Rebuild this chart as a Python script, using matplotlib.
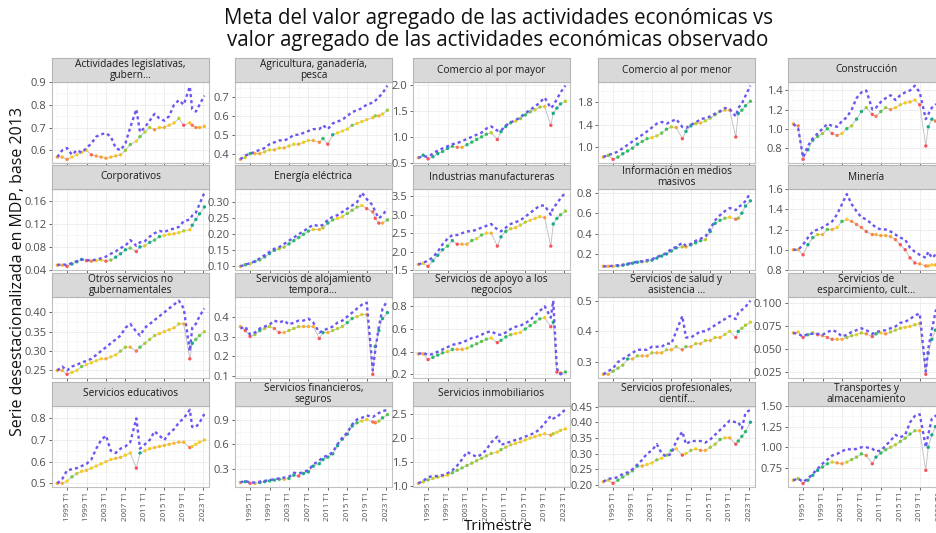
import numpy as np
import matplotlib.pyplot as plt
from matplotlib.colors import LinearSegmentedColormap
from matplotlib.ticker import FixedLocator

plt.rcParams['font.family'] = ['Open Sans', 'DejaVu Sans']

# trimestres (año decimal) usados como muestra de la serie
trimestres = [1993, 1994, 1995, 1996, 1997, 1998, 1999, 2000, 2001, 2002, 2003, 2004,
              2005, 2006, 2007, 2008, 2009.25, 2010, 2011, 2012, 2013, 2014, 2015, 2016,
              2017, 2018, 2019, 2020.25, 2020.75, 2021.5, 2022.25, 2023.25]
anios_tick = [1995, 1999, 2003, 2007, 2011, 2015, 2019, 2023]
etiquetas_x = [f"{a} T1" for a in anios_tick]

actividades = ["Actividades legislativas,\ngubern...", "Agricultura, ganadería,\npesca",
               "Comercio al por mayor", "Comercio al por menor", "Construcción",
               "Corporativos", "Energía eléctrica", "Industrias manufactureras",
               "Información en medios\nmasivos", "Minería",
               "Otros servicios no\ngubernamentales", "Servicios de alojamiento\ntempora...",
               "Servicios de apoyo a los\nnegocios", "Servicios de salud y\nasistencia ...",
               "Servicios de\nesparcimiento, cult...",
               "Servicios educativos", "Servicios financieros,\nseguros",
               "Servicios inmobiliarios", "Servicios profesionales,\ncientíf...",
               "Transportes y\nalmacenamiento"]

obs_legislativas = [0.57, 0.57, 0.56, 0.57, 0.58, 0.59, 0.60, 0.58, 0.575, 0.57, 0.565, 0.57, 0.575, 0.58, 0.60, 0.625, 0.64, 0.66, 0.68, 0.70, 0.69, 0.70, 0.70, 0.71, 0.72, 0.74, 0.71, 0.72, 0.71, 0.70, 0.70, 0.705]
meta_legislativas = [0.57, 0.60, 0.61, 0.58, 0.60, 0.59, 0.61, 0.63, 0.66, 0.67, 0.675, 0.66, 0.61, 0.60, 0.63, 0.70, 0.78, 0.68, 0.70, 0.73, 0.76, 0.74, 0.73, 0.75, 0.80, 0.82, 0.80, 0.88, 0.78, 0.77, 0.80, 0.84]
obs_agricultura = [0.37, 0.38, 0.40, 0.40, 0.40, 0.41, 0.42, 0.42, 0.43, 0.43, 0.44, 0.45, 0.45, 0.46, 0.47, 0.47, 0.46, 0.48, 0.45, 0.50, 0.51, 0.52, 0.53, 0.55, 0.56, 0.57, 0.58, 0.59, 0.60, 0.60, 0.61, 0.63]
meta_agricultura = [0.37, 0.39, 0.40, 0.41, 0.42, 0.43, 0.45, 0.46, 0.47, 0.47, 0.48, 0.50, 0.50, 0.51, 0.52, 0.53, 0.53, 0.55, 0.53, 0.56, 0.57, 0.58, 0.60, 0.62, 0.63, 0.64, 0.66, 0.67, 0.68, 0.70, 0.72, 0.76]
obs_mayor = [0.60, 0.65, 0.58, 0.62, 0.68, 0.72, 0.78, 0.82, 0.80, 0.80, 0.85, 0.90, 0.95, 1.00, 1.05, 1.08, 0.95, 1.10, 1.20, 1.27, 1.30, 1.35, 1.42, 1.48, 1.52, 1.57, 1.58, 1.22, 1.45, 1.55, 1.63, 1.68]
meta_mayor = [0.60, 0.63, 0.62, 0.68, 0.74, 0.78, 0.82, 0.86, 0.88, 0.92, 0.96, 1.00, 1.04, 1.08, 1.16, 1.20, 1.12, 1.12, 1.22, 1.28, 1.32, 1.38, 1.45, 1.52, 1.58, 1.66, 1.75, 1.55, 1.60, 1.72, 1.85, 1.98]
obs_menor = [0.82, 0.85, 0.78, 0.82, 0.88, 0.93, 0.98, 1.05, 1.10, 1.15, 1.17, 1.20, 1.25, 1.32, 1.36, 1.35, 1.15, 1.28, 1.38, 1.42, 1.43, 1.47, 1.52, 1.58, 1.64, 1.66, 1.66, 1.18, 1.60, 1.66, 1.74, 1.82]
meta_menor = [0.82, 0.86, 0.88, 0.92, 0.98, 1.04, 1.10, 1.16, 1.22, 1.28, 1.35, 1.42, 1.45, 1.42, 1.46, 1.50, 1.36, 1.34, 1.40, 1.44, 1.50, 1.52, 1.55, 1.60, 1.64, 1.70, 1.68, 1.55, 1.70, 1.78, 1.92, 2.10]
obs_construccion = [1.05, 1.03, 0.68, 0.78, 0.88, 0.92, 0.95, 1.00, 0.95, 0.93, 0.95, 1.00, 1.03, 1.10, 1.18, 1.22, 1.15, 1.13, 1.18, 1.22, 1.20, 1.22, 1.25, 1.27, 1.28, 1.30, 1.25, 0.82, 1.02, 1.10, 1.08, 1.12]
meta_construccion = [1.05, 1.00, 0.70, 0.82, 0.90, 0.95, 1.00, 1.05, 1.03, 1.02, 1.08, 1.12, 1.20, 1.32, 1.38, 1.40, 1.20, 1.22, 1.28, 1.32, 1.35, 1.30, 1.35, 1.38, 1.40, 1.45, 1.38, 1.10, 1.15, 1.22, 1.25, 1.28]
obs_corporativos = [0.048, 0.048, 0.046, 0.050, 0.054, 0.058, 0.056, 0.055, 0.056, 0.057, 0.055, 0.057, 0.062, 0.068, 0.075, 0.078, 0.072, 0.080, 0.082, 0.088, 0.092, 0.098, 0.100, 0.102, 0.103, 0.105, 0.108, 0.110, 0.118, 0.128, 0.138, 0.150]
meta_corporativos = [0.048, 0.050, 0.048, 0.052, 0.055, 0.058, 0.057, 0.056, 0.058, 0.060, 0.063, 0.068, 0.072, 0.078, 0.082, 0.092, 0.082, 0.088, 0.090, 0.098, 0.104, 0.108, 0.106, 0.110, 0.112, 0.115, 0.125, 0.128, 0.135, 0.140, 0.155, 0.175]
obs_energia = [0.100, 0.105, 0.108, 0.115, 0.120, 0.130, 0.140, 0.150, 0.155, 0.160, 0.170, 0.180, 0.190, 0.200, 0.210, 0.215, 0.215, 0.220, 0.235, 0.245, 0.250, 0.255, 0.265, 0.275, 0.285, 0.290, 0.280, 0.270, 0.250, 0.235, 0.235, 0.245]
meta_energia = [0.100, 0.105, 0.110, 0.115, 0.125, 0.135, 0.145, 0.155, 0.160, 0.170, 0.180, 0.190, 0.200, 0.210, 0.220, 0.230, 0.225, 0.230, 0.245, 0.255, 0.260, 0.270, 0.280, 0.290, 0.300, 0.330, 0.310, 0.290, 0.270, 0.250, 0.260, 0.280]
obs_manufactura = [1.65, 1.68, 1.60, 1.75, 1.90, 2.05, 2.15, 2.30, 2.20, 2.20, 2.20, 2.30, 2.35, 2.45, 2.50, 2.50, 2.15, 2.40, 2.55, 2.62, 2.65, 2.72, 2.80, 2.85, 2.90, 2.95, 2.92, 2.15, 2.75, 2.90, 3.00, 3.10]
meta_manufactura = [1.65, 1.70, 1.75, 1.85, 2.00, 2.20, 2.35, 2.45, 2.45, 2.50, 2.55, 2.55, 2.60, 2.65, 2.70, 2.75, 2.60, 2.55, 2.65, 2.75, 2.80, 2.85, 2.95, 3.05, 3.15, 3.25, 3.25, 3.00, 3.20, 3.30, 3.45, 3.60]
obs_informacion = [0.08, 0.08, 0.08, 0.085, 0.09, 0.10, 0.11, 0.12, 0.125, 0.13, 0.14, 0.16, 0.18, 0.20, 0.23, 0.26, 0.27, 0.27, 0.29, 0.31, 0.33, 0.34, 0.42, 0.50, 0.53, 0.55, 0.56, 0.54, 0.55, 0.60, 0.67, 0.72]
meta_informacion = [0.08, 0.08, 0.085, 0.09, 0.095, 0.105, 0.115, 0.125, 0.13, 0.14, 0.15, 0.17, 0.19, 0.21, 0.25, 0.27, 0.31, 0.28, 0.30, 0.33, 0.35, 0.37, 0.45, 0.53, 0.58, 0.62, 0.65, 0.63, 0.66, 0.68, 0.72, 0.80]
obs_mineria = [1.00, 1.00, 0.95, 1.05, 1.12, 1.15, 1.15, 1.20, 1.20, 1.22, 1.28, 1.30, 1.28, 1.25, 1.22, 1.18, 1.15, 1.15, 1.14, 1.14, 1.13, 1.10, 1.05, 1.00, 0.92, 0.87, 0.86, 0.84, 0.84, 0.85, 0.85, 0.86]
meta_mineria = [1.00, 1.00, 1.05, 1.12, 1.18, 1.20, 1.22, 1.25, 1.28, 1.35, 1.45, 1.55, 1.45, 1.38, 1.32, 1.30, 1.25, 1.22, 1.20, 1.20, 1.18, 1.15, 1.12, 1.10, 1.02, 0.98, 0.95, 0.92, 0.98, 0.92, 0.95, 0.97]
obs_otros = [0.25, 0.25, 0.24, 0.245, 0.25, 0.26, 0.265, 0.27, 0.275, 0.28, 0.28, 0.285, 0.29, 0.30, 0.31, 0.31, 0.30, 0.31, 0.32, 0.33, 0.34, 0.345, 0.35, 0.355, 0.36, 0.37, 0.37, 0.28, 0.32, 0.33, 0.34, 0.35]
meta_otros = [0.25, 0.26, 0.25, 0.26, 0.265, 0.27, 0.275, 0.28, 0.29, 0.30, 0.31, 0.32, 0.33, 0.34, 0.36, 0.37, 0.35, 0.34, 0.36, 0.37, 0.38, 0.39, 0.40, 0.41, 0.42, 0.43, 0.41, 0.30, 0.36, 0.37, 0.39, 0.41]
obs_alojamiento = [0.35, 0.33, 0.30, 0.31, 0.33, 0.34, 0.35, 0.34, 0.32, 0.32, 0.33, 0.34, 0.35, 0.35, 0.35, 0.35, 0.29, 0.32, 0.32, 0.33, 0.34, 0.35, 0.37, 0.39, 0.40, 0.41, 0.41, 0.11, 0.25, 0.33, 0.39, 0.42]
meta_alojamiento = [0.34, 0.35, 0.31, 0.32, 0.34, 0.35, 0.36, 0.38, 0.37, 0.38, 0.36, 0.37, 0.38, 0.38, 0.39, 0.37, 0.32, 0.33, 0.34, 0.35, 0.37, 0.38, 0.40, 0.42, 0.44, 0.46, 0.47, 0.13, 0.23, 0.35, 0.44, 0.48]
obs_apoyo = [0.38, 0.38, 0.33, 0.35, 0.37, 0.39, 0.40, 0.42, 0.42, 0.42, 0.43, 0.45, 0.47, 0.49, 0.51, 0.52, 0.48, 0.50, 0.53, 0.55, 0.56, 0.57, 0.60, 0.63, 0.66, 0.69, 0.70, 0.62, 0.66, 0.22, 0.21, 0.22]
meta_apoyo = [0.38, 0.39, 0.37, 0.38, 0.40, 0.42, 0.44, 0.46, 0.47, 0.48, 0.50, 0.52, 0.53, 0.55, 0.57, 0.58, 0.55, 0.55, 0.57, 0.60, 0.62, 0.63, 0.65, 0.68, 0.72, 0.76, 0.80, 0.70, 0.85, 0.25, 0.20, 0.22]
obs_salud = [0.26, 0.26, 0.27, 0.28, 0.29, 0.31, 0.31, 0.32, 0.32, 0.32, 0.33, 0.33, 0.33, 0.34, 0.34, 0.35, 0.34, 0.35, 0.35, 0.36, 0.36, 0.37, 0.37, 0.38, 0.38, 0.39, 0.40, 0.38, 0.40, 0.41, 0.42, 0.43]
meta_salud = [0.26, 0.27, 0.28, 0.30, 0.31, 0.32, 0.33, 0.34, 0.34, 0.34, 0.35, 0.35, 0.35, 0.36, 0.36, 0.40, 0.45, 0.38, 0.38, 0.39, 0.40, 0.40, 0.41, 0.42, 0.43, 0.44, 0.45, 0.44, 0.46, 0.47, 0.48, 0.50]
obs_esparcimiento = [0.067, 0.068, 0.062, 0.065, 0.067, 0.065, 0.064, 0.062, 0.060, 0.060, 0.060, 0.062, 0.064, 0.065, 0.067, 0.066, 0.063, 0.066, 0.067, 0.066, 0.068, 0.070, 0.072, 0.073, 0.074, 0.076, 0.077, 0.022, 0.045, 0.060, 0.070, 0.078]
meta_esparcimiento = [0.067, 0.066, 0.063, 0.066, 0.066, 0.066, 0.065, 0.068, 0.070, 0.068, 0.063, 0.065, 0.068, 0.070, 0.072, 0.070, 0.066, 0.068, 0.069, 0.070, 0.072, 0.074, 0.078, 0.079, 0.082, 0.086, 0.088, 0.025, 0.050, 0.070, 0.090, 0.102]
obs_educativos = [0.50, 0.50, 0.51, 0.53, 0.545, 0.555, 0.56, 0.57, 0.58, 0.59, 0.60, 0.61, 0.615, 0.62, 0.63, 0.64, 0.57, 0.64, 0.65, 0.66, 0.665, 0.67, 0.675, 0.68, 0.685, 0.69, 0.69, 0.665, 0.67, 0.68, 0.69, 0.70]
meta_educativos = [0.50, 0.52, 0.56, 0.565, 0.57, 0.58, 0.59, 0.61, 0.66, 0.70, 0.72, 0.65, 0.64, 0.66, 0.67, 0.69, 0.80, 0.66, 0.68, 0.70, 0.74, 0.72, 0.70, 0.73, 0.75, 0.78, 0.80, 0.84, 0.76, 0.76, 0.78, 0.82]
obs_financieros = [0.13, 0.14, 0.12, 0.12, 0.13, 0.14, 0.15, 0.16, 0.17, 0.17, 0.18, 0.22, 0.21, 0.24, 0.26, 0.33, 0.36, 0.41, 0.44, 0.48, 0.58, 0.66, 0.72, 0.82, 0.86, 0.88, 0.90, 0.87, 0.86, 0.88, 0.92, 0.96]
meta_financieros = [0.13, 0.15, 0.13, 0.13, 0.14, 0.15, 0.16, 0.17, 0.18, 0.19, 0.20, 0.25, 0.24, 0.26, 0.28, 0.35, 0.40, 0.44, 0.46, 0.50, 0.60, 0.68, 0.74, 0.84, 0.90, 0.92, 0.95, 0.93, 0.95, 0.98, 1.00, 1.02]
obs_inmobiliarios = [1.05, 1.08, 1.12, 1.15, 1.18, 1.20, 1.22, 1.27, 1.32, 1.37, 1.42, 1.47, 1.52, 1.57, 1.62, 1.67, 1.70, 1.75, 1.80, 1.85, 1.88, 1.91, 1.95, 1.99, 2.02, 2.05, 2.08, 2.05, 2.08, 2.11, 2.15, 2.18]
meta_inmobiliarios = [1.05, 1.10, 1.18, 1.20, 1.20, 1.22, 1.26, 1.32, 1.42, 1.55, 1.70, 1.65, 1.60, 1.65, 1.75, 1.90, 2.02, 1.85, 1.88, 1.92, 1.95, 1.98, 2.02, 2.06, 2.10, 2.18, 2.30, 2.45, 2.40, 2.42, 2.50, 2.58]
obs_profesionales = [0.21, 0.215, 0.205, 0.215, 0.225, 0.235, 0.245, 0.26, 0.26, 0.265, 0.27, 0.28, 0.285, 0.295, 0.31, 0.315, 0.295, 0.30, 0.31, 0.315, 0.31, 0.31, 0.32, 0.33, 0.345, 0.35, 0.35, 0.33, 0.34, 0.355, 0.37, 0.40]
meta_profesionales = [0.21, 0.22, 0.22, 0.225, 0.235, 0.24, 0.25, 0.265, 0.28, 0.30, 0.31, 0.33, 0.30, 0.29, 0.30, 0.34, 0.37, 0.33, 0.34, 0.34, 0.34, 0.335, 0.345, 0.36, 0.375, 0.39, 0.405, 0.40, 0.40, 0.38, 0.43, 0.44]
obs_transportes = [0.60, 0.62, 0.56, 0.60, 0.66, 0.72, 0.76, 0.80, 0.82, 0.81, 0.80, 0.82, 0.85, 0.88, 0.92, 0.90, 0.80, 0.88, 0.93, 0.97, 1.00, 1.03, 1.07, 1.11, 1.16, 1.20, 1.20, 0.72, 1.00, 1.15, 1.25, 1.30]
meta_transportes = [0.60, 0.62, 0.58, 0.62, 0.68, 0.74, 0.80, 0.85, 0.90, 0.92, 0.95, 0.98, 0.97, 0.98, 1.00, 1.00, 0.98, 0.95, 0.96, 1.02, 1.08, 1.15, 1.12, 1.15, 1.30, 1.38, 1.40, 1.00, 1.15, 1.35, 1.38, 1.40]

ticks_y = [[0.6, 0.7, 0.8, 0.9], [0.4, 0.5, 0.6, 0.7], [0.5, 1.0, 1.5, 2.0], [1.0, 1.4, 1.8], [0.8, 1.0, 1.2, 1.4],
           [0.04, 0.08, 0.12, 0.16], [0.10, 0.15, 0.20, 0.25, 0.30], [1.5, 2.0, 2.5, 3.0, 3.5], [0.2, 0.4, 0.6, 0.8], [0.8, 1.0, 1.2, 1.4, 1.6],
           [0.25, 0.30, 0.35, 0.40], [0.1, 0.2, 0.3, 0.4], [0.2, 0.4, 0.6, 0.8], [0.3, 0.4, 0.5], [0.025, 0.050, 0.075, 0.100],
           [0.5, 0.6, 0.7, 0.8], [0.3, 0.6, 0.9], [1.0, 1.5, 2.0, 2.5], [0.20, 0.25, 0.30, 0.35, 0.40, 0.45], [0.75, 1.00, 1.25, 1.50]]
decimales_y = [1, 1, 1, 1, 1, 2, 2, 1, 1, 1, 2, 1, 1, 1, 3, 1, 1, 1, 2, 2]

observados = [obs_legislativas, obs_agricultura, obs_mayor, obs_menor, obs_construccion,
              obs_corporativos, obs_energia, obs_manufactura, obs_informacion, obs_mineria,
              obs_otros, obs_alojamiento, obs_apoyo, obs_salud, obs_esparcimiento,
              obs_educativos, obs_financieros, obs_inmobiliarios, obs_profesionales, obs_transportes]
metas = [meta_legislativas, meta_agricultura, meta_mayor, meta_menor, meta_construccion,
         meta_corporativos, meta_energia, meta_manufactura, meta_informacion, meta_mineria,
         meta_otros, meta_alojamiento, meta_apoyo, meta_salud, meta_esparcimiento,
         meta_educativos, meta_financieros, meta_inmobiliarios, meta_profesionales, meta_transportes]

# colores de los puntos observados segun la variacion anual
cmap = LinearSegmentedColormap.from_list(
    'var', ['#f8545a', '#fd9a3c', '#f6d21c', '#2fc25b', '#17a98e'])

W, H = 936, 533
fig = plt.figure(figsize=(W / 100, H / 100), dpi=100)

col_left = [52, 235, 413, 598, 788]
row_top = [82, 189, 297, 406]
pw, ph, sh = 157, 81, 24

gris = '#4d4d4d'
for i, nombre in enumerate(actividades):
    r, c = divmod(i, 5)
    x0, y0 = col_left[c], row_top[r]
    ax = fig.add_axes([x0 / W, 1 - (y0 + ph) / H, pw / W, ph / H])
    st = fig.add_axes([x0 / W, 1 - y0 / H, pw / W, sh / H])
    st.set_facecolor('#d9d9d9')
    st.set_xticks([])
    st.set_yticks([])
    for s in st.spines.values():
        s.set_color('#b5b5b5')
        s.set_linewidth(0.8)
    st.text(0.5, 0.5, nombre, ha='center', va='center', fontsize=7.3,
            color='#1a1a1a', linespacing=1.0, transform=st.transAxes)

    obs = np.array(observados[i])
    meta = np.array(metas[i])
    t = np.array(trimestres)
    var = np.zeros_like(obs)
    var[1:] = (obs[1:] / obs[:-1] - 1) / np.diff(t)
    colores = cmap(np.clip((var + 0.04) / 0.12, 0, 1))

    ax.plot(t, obs, color='#c4c4c4', lw=0.7, zorder=2)
    ax.scatter(t, obs, c=colores, s=6, linewidths=0, zorder=3)
    ax.plot(t, meta, color='#6b56f0', lw=1.7, ls=(0, (1.3, 1.3)), zorder=4)

    ax.set_xlim(1991.9, 2024.2)
    lo = min(obs.min(), meta.min())
    hi = max(obs.max(), meta.max())
    pad = (hi - lo) * 0.05
    ax.set_ylim(lo - pad, hi + pad)

    ax.set_xticks(anios_tick)
    ax.xaxis.set_minor_locator(FixedLocator([a + 2 for a in [1991] + anios_tick]))
    yt = ticks_y[i]
    ax.set_yticks(yt)
    ax.set_yticklabels([f"{v:.{decimales_y[i]}f}" for v in yt])
    paso = yt[1] - yt[0]
    ax.yaxis.set_minor_locator(FixedLocator([yt[0] - paso / 2] + [v + paso / 2 for v in yt]))
    if r == 3:
        ax.set_xticklabels(etiquetas_x, rotation=90, fontsize=5.8, color=gris)
    else:
        ax.set_xticklabels([])
    ax.tick_params(axis='y', labelsize=8, colors=gris, length=2.5, pad=1.5, width=0.6)
    ax.tick_params(axis='x', length=2.5, pad=1, colors=gris, width=0.6)
    ax.tick_params(which='minor', length=0)
    ax.grid(which='major', color='#ebebeb', lw=0.6)
    ax.grid(which='minor', color='#f3f3f3', lw=0.4)
    ax.set_axisbelow(True)
    for s in ax.spines.values():
        s.set_color('#c0c0c0')
        s.set_linewidth(0.8)

fig.text(498 / W, 1 - 8 / H,
         "Meta del valor agregado de las actividades económicas vs\n"
         "valor agregado de las actividades económicas observado",
         ha='center', va='top', fontsize=14.8, color='#111111', linespacing=1.05)
fig.text(18 / W, 1 - 272 / H, "Serie desestacionalizada en MDP, base 2013",
         rotation=90, ha='center', va='center', fontsize=11.5, color='#111111')
fig.text(498 / W, 1 - 527 / H, "Trimestre", ha='center', va='center',
         fontsize=11, color='#111111')

fig.savefig('out.png', dpi=100, facecolor='white')
